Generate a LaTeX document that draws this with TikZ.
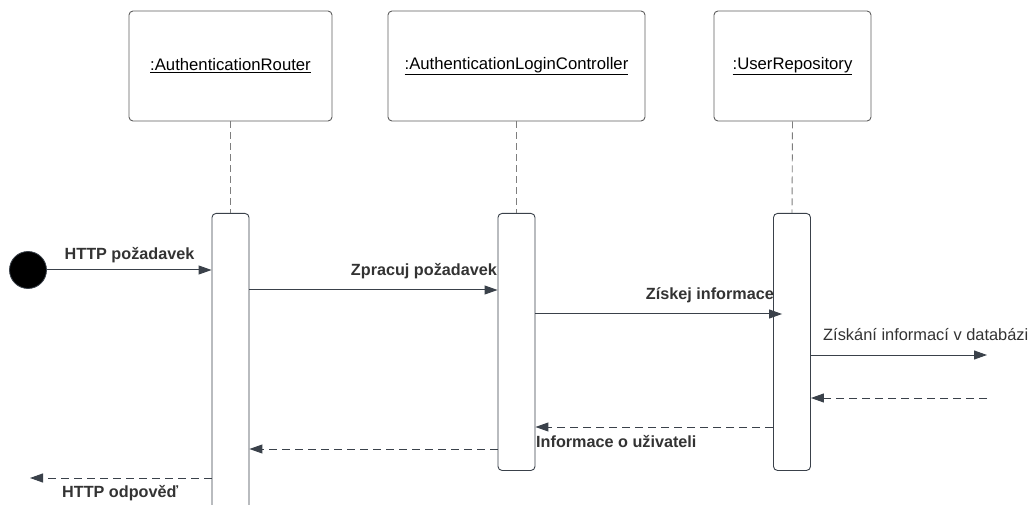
\documentclass[tikz,border=0pt]{standalone}
\usepackage{fontspec}
\setmainfont{Liberation Sans}
\usetikzlibrary{arrows.meta,calc}
\definecolor{linec}{HTML}{3A414A}
\definecolor{boxc}{HTML}{5E5E5E}
\definecolor{txtc}{HTML}{333333}
\tikzset{
  objbox/.style={draw=boxc, line width=0.9pt, rounded corners=4pt, minimum height=110pt, inner sep=0pt, font=\fontsize{16.7}{19}\selectfont, text=black},
  actbar/.style={draw=linec, line width=0.9pt, rounded corners=4pt, fill=white, minimum width=37pt, inner sep=0pt},
  life/.style={draw=boxc!80, line width=0.9pt, dash pattern=on 7pt off 4pt},
  msg/.style={draw=linec, line width=1pt, -{Triangle[length=13pt,width=9pt]}},
  ret/.style={draw=linec, line width=1pt, dash pattern=on 8pt off 5pt, -{Triangle[length=13pt,width=9pt]}},
  blab/.style={font=\bfseries\fontsize{16.2}{19}\selectfont, text=txtc, inner sep=0pt},
  nlab/.style={font=\fontsize{16.4}{19}\selectfont, text=txtc, inner sep=0pt},
}
\begin{document}
\begin{tikzpicture}[x=1pt,y=-1pt]
\useasboundingbox (0,0) rectangle (1029,505);
% objects
\node[objbox, minimum width=203pt] (o1) at (230.5,66) {\underline{:AuthenticationRouter}};
\node[objbox, minimum width=257pt] (o2) at (516.5,66) {\underline{:AuthenticationLoginController}};
\node[objbox, minimum width=157pt] (o3) at (792.5,66) {\underline{:UserRepository}};
% activation bars
\node[actbar, minimum height=320pt, anchor=north] (a1) at (230.5,213) {};
\node[actbar, minimum height=257pt, anchor=north] (a2) at (516.5,213) {};
\node[actbar, minimum height=257pt, anchor=north] (a3) at (792,213) {};
% lifelines
\draw[life] (o1.south) -- (a1.north);
\draw[life] (o2.south) -- (a2.north);
\draw[life] (o3.south) -- (a3.north);
% start
\node[circle, fill=black, draw=linec, line width=0.8pt, minimum size=37pt, inner sep=0pt] (st) at (28,270) {};
\coordinate (db1) at (987,355);
\coordinate (db2) at (987,398);
\coordinate (out) at (30,478);
% messages
\draw[msg] (st.east) -- (st.east -| a1.west);
\draw[msg] ($(a1.north east)+(0,77)$) -- ($(a2.north west)+(0,77)$);
\draw[msg] ($(a2.north east)+(0,101)$) -- ($(a3.north west)+(9,101)$);
\draw[msg] (db1 -| a3.east) -- (db1);
\draw[ret] (db2) -- (db2 -| a3.east);
\draw[ret] ($(a3.north west)+(0,214)$) -- ($(a2.north east)+(0,214)$);
\draw[ret] ($(a2.north west)+(0,236)$) -- ($(a1.north east)+(0,236)$);
\draw[ret] (out -| a1.west) -- (out);
% labels
\node[blab, anchor=base] (l1) at (129.5,260) {HTTP požadavek};
\node[blab, anchor=base east] (l2) at (497,276) {Zpracuj požadavek};
\node[blab, anchor=base east] (l3) at (774,300) {Získej informace};
\node[nlab, anchor=base west] (l4) at (823,341) {Získání informací v databázi};
\node[blab, anchor=base west] (l5) at (536,447) {Informace o uživateli};
\node[blab, anchor=base west] (l6) at (62,497) {HTTP odpověď};
\end{tikzpicture}
\end{document}
